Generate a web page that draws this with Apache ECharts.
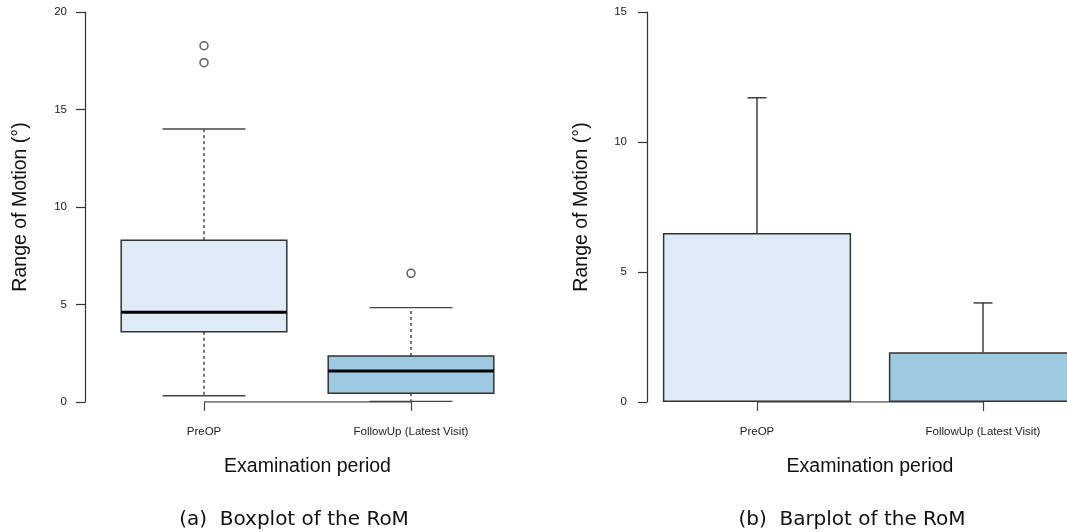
<!DOCTYPE html>
<html><head><meta charset="utf-8">
<script src="https://cdn.jsdelivr.net/npm/echarts@6/dist/echarts.min.js"></script>
<style>html,body{margin:0;padding:0;background:#fff}#c{width:1067px;height:532px}</style>
</head><body><div id="c"></div>
<script>
// ---- data ----
const categories = ['PreOP', 'FollowUp (Latest Visit)'];
// box statistics: [lower whisker, Q1, median, Q3, upper whisker]
const preOpBox = [0.32, 3.6, 4.6, 8.3, 14.0];
const followUpBox = [0.03, 0.45, 1.59, 2.36, 4.84];
const preOpOutliers = [18.27, 17.4];
const followUpOutliers = [6.6];
// barplot: mean and standard deviation
const barMeans = [6.5, 1.91];
const barSD = [5.2, 1.9];
const boxAxisTicks = [0, 5, 10, 15, 20];
const barAxisTicks = [0, 5, 10, 15];
const yTitle = 'Range of Motion (°)';
const xTitle = 'Examination period';
const captions = ['(a)  Boxplot of the RoM', '(b)  Barplot of the RoM'];

const fills = ['#deebf7', '#9ecae1'];
const axisColor = '#333';
const labelFont = 'Liberation Sans, Arial, sans-serif';

const chart = echarts.init(document.getElementById('c'), null, {renderer: 'canvas'});

const boxData = [[0].concat(preOpBox), [1].concat(followUpBox)];
const outlierData = preOpOutliers.map(v => [0, v]).concat(followUpOutliers.map(v => [1, v]));
const errData = barMeans.map((m, i) => [i, m, m + barSD[i]]);

function yAxisCfg(gi, ticks, offset, margin, gap) {
  return {
    type: 'value', gridIndex: gi,
    min: ticks[0], max: ticks[ticks.length - 1], interval: ticks[1] - ticks[0],
    offset: offset,
    name: yTitle, nameLocation: 'middle', nameGap: gap,
    nameTextStyle: {fontFamily: labelFont, fontSize: 19.5, color: '#111'},
    axisLine: {show: true, lineStyle: {color: axisColor, width: 1.2}},
    axisTick: {show: true, length: 9, lineStyle: {color: axisColor, width: 1.2}},
    axisLabel: {margin: margin, fontFamily: labelFont, fontSize: 11.5, color: '#222'},
    splitLine: {show: false}
  };
}
function xAxisCfg(gi) {
  return {
    type: 'category', gridIndex: gi, data: categories, boundaryGap: true,
    name: xTitle, nameLocation: 'middle', nameGap: 55,
    nameTextStyle: {fontFamily: labelFont, fontSize: 19.5, color: '#111'},
    axisLine: {show: false},
    axisTick: {show: true, alignWithLabel: true, length: 9, lineStyle: {color: '#444', width: 1.2}},
    axisLabel: {margin: 24, fontFamily: labelFont, fontSize: 11.5, color: '#222', interval: 0},
    splitLine: {show: false}
  };
}

const option = {
  animation: false,
  backgroundColor: '#fff',
  grid: [
    {left: 100.5, top: 12, width: 414, height: 390, outerBoundsMode: 'none', containLabel: false},
    {left: 644, top: 12, width: 452, height: 390, outerBoundsMode: 'none', containLabel: false}
  ],
  xAxis: [xAxisCfg(0), xAxisCfg(1)],
  yAxis: [yAxisCfg(0, boxAxisTicks, 15.5, 18, 54), yAxisCfg(1, barAxisTicks, -3, 20, 55)],
  graphic: [
    {type: 'text', x: 294, y: 520, style: {text: captions[0], font: '20px "DejaVu Sans", sans-serif', fill: '#111', align: 'center', verticalAlign: 'middle'}},
    {type: 'text', x: 852, y: 520, style: {text: captions[1], font: '20px "DejaVu Sans", sans-serif', fill: '#111', align: 'center', verticalAlign: 'middle'}}
  ],
  series: [
    // R-style axis line from first to last tick
    {type: 'line', xAxisIndex: 0, yAxisIndex: 0, data: [0, 0], symbol: 'none', z: 1,
     lineStyle: {color: '#555', width: 1.3}, silent: true},
    {type: 'line', xAxisIndex: 1, yAxisIndex: 1, data: [0, 0], symbol: 'none', z: 1,
     lineStyle: {color: '#555', width: 1.3}, silent: true},
    {
      type: 'custom', xAxisIndex: 0, yAxisIndex: 0, z: 3,
      data: boxData,
      encode: {x: 0, y: [1, 2, 3, 4, 5]},
      renderItem: function (params, api) {
        const i = api.value(0);
        const band = api.size([1, 0])[0];
        const v = [1, 2, 3, 4, 5].map(k => api.value(k));
        const cx = api.coord([i, v[0]])[0];
        const y = v.map(val => api.coord([i, val])[1]);
        const hw = band * 0.4, cw = band * 0.2;
        return {
          type: 'group',
          children: [
            {type: 'line', shape: {x1: cx, y1: y[1], x2: cx, y2: y[0]}, style: {stroke: '#555', lineWidth: 1.6, lineDash: [3, 3]}},
            {type: 'line', shape: {x1: cx, y1: y[3], x2: cx, y2: y[4]}, style: {stroke: '#555', lineWidth: 1.6, lineDash: [3, 3]}},
            {type: 'line', shape: {x1: cx - cw, y1: y[0], x2: cx + cw, y2: y[0]}, style: {stroke: '#444', lineWidth: 1.4}},
            {type: 'line', shape: {x1: cx - cw, y1: y[4], x2: cx + cw, y2: y[4]}, style: {stroke: '#444', lineWidth: 1.4}},
            {type: 'rect', shape: {x: cx - hw, y: y[3], width: 2 * hw, height: y[1] - y[3]}, style: {fill: fills[i], stroke: '#333', lineWidth: 1.5}},
            {type: 'line', shape: {x1: cx - hw, y1: y[2], x2: cx + hw, y2: y[2]}, style: {stroke: '#000', lineWidth: 3}}
          ]
        };
      }
    },
    {
      type: 'scatter', xAxisIndex: 0, yAxisIndex: 0, z: 4,
      data: outlierData, symbol: 'circle', symbolSize: 8,
      itemStyle: {color: '#fff', borderColor: '#333', borderWidth: 1.5}
    },
    {
      type: 'bar', xAxisIndex: 1, yAxisIndex: 1, z: 3,
      barWidth: '83.3%',
      data: barMeans.map((m, i) => ({value: m, itemStyle: {color: fills[i]}})),
      itemStyle: {borderColor: '#333', borderWidth: 1.5}
    },
    {
      type: 'custom', xAxisIndex: 1, yAxisIndex: 1, z: 4,
      data: errData,
      encode: {x: 0, y: [1, 2]},
      renderItem: function (params, api) {
        const i = api.value(0);
        const lo = api.coord([i, api.value(1)]);
        const hi = api.coord([i, api.value(2)]);
        const cw = api.size([1, 0])[0] * 0.042;
        return {
          type: 'group',
          children: [
            {type: 'line', shape: {x1: lo[0], y1: lo[1], x2: hi[0], y2: hi[1]}, style: {stroke: '#222', lineWidth: 1.3}},
            {type: 'line', shape: {x1: hi[0] - cw, y1: hi[1], x2: hi[0] + cw, y2: hi[1]}, style: {stroke: '#222', lineWidth: 1.3}}
          ]
        };
      }
    }
  ]
};
chart.setOption(option);
</script>
</body></html>
